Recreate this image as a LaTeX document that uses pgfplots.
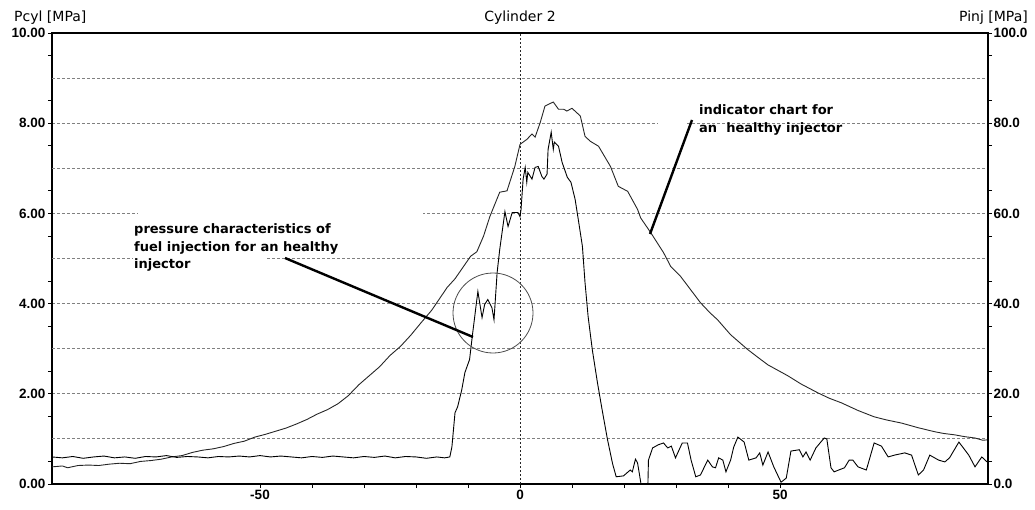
\documentclass[border=0pt]{standalone}
\usepackage{pgfplots}
\pgfplotsset{compat=1.18}
\usepackage{fontspec}
\setmainfont{DejaVu Sans}
\newfontfamily\lsans{Liberation Sans}
\newfontfamily\dsans{DejaVu Sans}

\begin{document}
\begin{tikzpicture}
\begin{axis}[
  scale only axis, width=936pt, height=451pt,
  xmin=-90, xmax=90, ymin=0, ymax=10,
  xtick={-50,0,50}, xticklabels={-50,0,50},
  minor x tick num=4,
  ytick={0,2,4,6,8,10}, yticklabels={0.00,2.00,4.00,6.00,8.00,10.00},
  minor ytick={0.5,1.5,2.5,3.5,4.5,5.5,6.5,7.5,8.5,9.5},
  extra y ticks={1,3,5,7,9}, extra y tick labels={},
  extra y tick style={major tick length=0pt, grid=major},
  extra x ticks={0}, extra x tick labels={},
  extra x tick style={grid=major, major grid style={black!85, dash pattern=on 2pt off 2pt, line width=0.8pt}},
  ymajorgrids,
  major grid style={black!50, dash pattern=on 3pt off 2pt, line width=0.9pt},
  tick align=outside, xtick pos=bottom, ytick pos=left,
  major tick length=4pt, minor tick length=4pt,
  every tick/.style={black, line width=0.9pt},
  axis line style={line width=1.1pt},
  ticklabel style={font=\lsans\bfseries\fontsize{13.5}{15}\selectfont},
  yticklabel style={xshift=1pt},
  xticklabel style={yshift=1pt},
]
% cylinder pressure (indicator chart)
\addplot[black!85, line width=0.9pt] coordinates {
(-90,0.38) (-88,0.40) (-87,0.36) (-85,0.41) (-83,0.42) (-81,0.41) (-79,0.44)
(-77,0.46) (-75,0.45) (-73,0.50) (-71,0.52) (-69,0.55) (-67,0.60) (-65,0.63)
(-63,0.70) (-61,0.75) (-59,0.78) (-57,0.83) (-55,0.90) (-53,0.95) (-51,1.04)
(-49,1.10) (-47,1.17) (-45,1.24) (-43,1.33) (-41,1.43) (-39,1.55) (-37,1.65)
(-35,1.78) (-33,1.96) (-31,2.20) (-29,2.40) (-27,2.60) (-25,2.85) (-23,3.05)
(-21,3.30) (-19,3.58) (-17,3.85) (-16,4.02) (-14,4.36) (-12.5,4.55) (-11,4.80)
(-9.5,5.05) (-8.3,5.15) (-7,5.50) (-5.8,5.93) (-4.5,6.30) (-3.9,6.47) (-2.5,6.50)
(-1,7.04) (0,7.53) (1.3,7.64) (2.3,7.76) (2.9,7.69) (3.9,8.02) (4.8,8.38)
(6.4,8.47) (7.4,8.31) (8.4,8.31) (9.0,8.27) (10.0,8.33) (11.6,8.16) (12.5,7.71)
(13.5,7.60) (15.1,7.49) (17.4,7.04) (18.9,6.60) (20.7,6.49) (22.6,6.09) (23.2,5.90)
(25.1,5.58) (27.6,5.13) (29,4.82) (30.9,4.60) (32.8,4.31) (34.7,4.02) (36.5,3.80)
(38,3.64) (40.5,3.31) (43.8,2.98) (46.3,2.76) (47.7,2.64) (51.5,2.40) (54,2.22)
(57.3,2.02) (59.5,1.90) (61.8,1.80) (65,1.63) (68.1,1.49) (70.5,1.42) (73.4,1.35)
(76.5,1.25) (79.7,1.16) (81.5,1.12) (83.6,1.09) (85.5,1.05) (87.5,1.02) (89,0.97) (90,0.98)
};
% injection pressure
\addplot[black, line width=0.9pt] coordinates {
(-90,0.60) (-88,0.58) (-86,0.61) (-84,0.57) (-82,0.60) (-80,0.62) (-78,0.58)
(-76,0.60) (-74,0.57) (-72,0.61) (-70,0.60) (-68,0.63) (-66,0.59) (-64,0.61)
(-62,0.60) (-60,0.58) (-58,0.61) (-56,0.60) (-54,0.62) (-52,0.60) (-50,0.63)
(-48,0.60) (-46,0.62) (-44,0.60) (-42,0.58) (-40,0.61) (-38,0.59) (-36,0.62)
(-34,0.60) (-32,0.58) (-30,0.61) (-28,0.59) (-26,0.62) (-24,0.58) (-22,0.61)
(-20,0.60) (-18,0.57) (-16,0.60) (-14.5,0.58) (-13.5,0.60) (-13.1,0.82) (-12.5,1.58)
(-12,1.71) (-11.2,2.09) (-10.6,2.47) (-9.7,2.76) (-9.1,3.35) (-8.3,4.09) (-8.1,4.27)
(-7.3,3.69) (-6.8,3.98) (-6.2,4.09) (-5.4,3.91) (-5.0,3.64) (-4.4,4.69) (-3.9,5.20)
(-2.9,6.04) (-2.3,5.71) (-1.5,6.02) (-0.4,6.02) (0,5.93) (0.2,6.09) (0.6,6.76)
(1.0,7.02) (1.3,6.69) (1.5,6.91) (2.3,6.76) (2.9,7.02) (3.5,7.04) (4.2,6.82)
(4.6,6.76) (5.2,6.87) (5.4,7.42) (6.0,7.80) (6.4,7.42) (6.6,7.58) (7.4,7.49)
(8.1,7.13) (9.1,6.80) (9.8,6.69) (10.6,6.31) (11.2,5.87) (12.0,5.27) (12.5,4.47)
(13.1,3.71) (13.9,2.98) (14.9,2.24) (15.8,1.64) (16.8,1.00) (17.8,0.45) (18.5,0.16)
(19.9,0.18) (21.2,0.31) (21.6,0.27) (22.2,0.55) (22.6,0.47) (23.2,0.05) (23.6,-0.3)
(24.5,-0.5) (24.7,0.53) (25.5,0.80) (26.6,0.87) (27.6,0.91) (28.4,0.80) (29.1,0.84)
(29.9,0.58) (31.2,0.91) (32.2,0.91) (32.9,0.53) (33.8,0.16) (34.7,0.20) (36.1,0.53)
(37,0.38) (37.6,0.36) (38.2,0.58) (39,0.53) (39.6,0.27) (40.5,0.53) (41.1,0.82)
(41.9,1.04) (43.1,0.93) (44,0.53) (45.4,0.58) (46.1,0.69) (46.7,0.42) (47.7,0.71)
(48.8,0.38) (50.2,0.04) (51.2,0.13) (52.1,0.73) (53.7,0.76) (54.4,0.60) (55.0,0.71)
(55.8,0.53) (56.9,0.80) (58.5,1.02) (59.0,1.00) (59.8,0.36) (60.4,0.27) (62.4,0.36)
(63.3,0.53) (64,0.53) (65,0.38) (66.6,0.31) (68.1,0.91) (69.5,0.84) (70.8,0.60)
(72,0.64) (74,0.69) (75.3,0.64) (76.6,0.20) (77.6,0.31) (78.8,0.64) (80.5,0.53)
(81.7,0.49) (82.6,0.58) (84.4,0.93) (86.3,0.64) (87.5,0.38) (88.8,0.60) (90,0.47)
};
\end{axis}
\begin{axis}[
  scale only axis, width=936pt, height=451pt,
  xmin=-90, xmax=90, ymin=0, ymax=100,
  hide x axis, axis y line*=right,
  ytick={0,20,40,60,80,100}, yticklabels={0.0,20.0,40.0,60.0,80.0,100.0},
  minor ytick={5,15,25,35,45,55,65,75,85,95},
  tick align=outside, major tick length=4pt, minor tick length=4pt,
  every tick/.style={black, line width=0.9pt},
  axis line style={line width=1.1pt},
  yticklabel style={font=\lsans\bfseries\fontsize{13.5}{15}\selectfont, xshift=-2pt},
]
\end{axis}
% white masks behind annotation texts
\fill[white] (86pt,267pt) rectangle (371pt,275pt);
\fill[white] (81pt,222pt) rectangle (215pt,230pt);
\fill[white] (606pt,358pt) rectangle (635pt,366pt);
% titles
\node[anchor=base west, inner sep=0pt, font=\dsans\fontsize{14}{16}\selectfont] at (-38pt,462pt) {Pcyl [MPa]};
\node[anchor=base, inner sep=0pt, font=\dsans\fontsize{14}{16}\selectfont] at (468pt,462pt) {Cylinder 2};
\node[anchor=base east, inner sep=0pt, font=\dsans\fontsize{14}{16}\selectfont] at (976pt,462pt) {Pinj [MPa]};
% annotations
\begin{scope}[every node/.style={anchor=base west, inner sep=0pt, font=\dsans\bfseries\fontsize{13}{18}\selectfont}]
\node at (82pt,251pt) {pressure characteristics of};
\node at (82pt,233pt) {fuel injection for an healthy};
\node at (82pt,215pt) {injector};
\node at (647pt,369pt) {indicator chart for};
\node at (647pt,351pt) {an\ \ healthy injector};
\end{scope}
\draw[black!70, line width=0.8pt] (441pt,171pt) circle [radius=40pt];
\draw[black, line width=2.4pt] (233pt,226pt) -- (421pt,147pt);
\draw[black, line width=2.4pt] (598pt,250pt) -- (640pt,364pt);
\pgfresetboundingbox
\path (-52pt,-25pt) rectangle (983pt,484pt);
\end{tikzpicture}
\end{document}
